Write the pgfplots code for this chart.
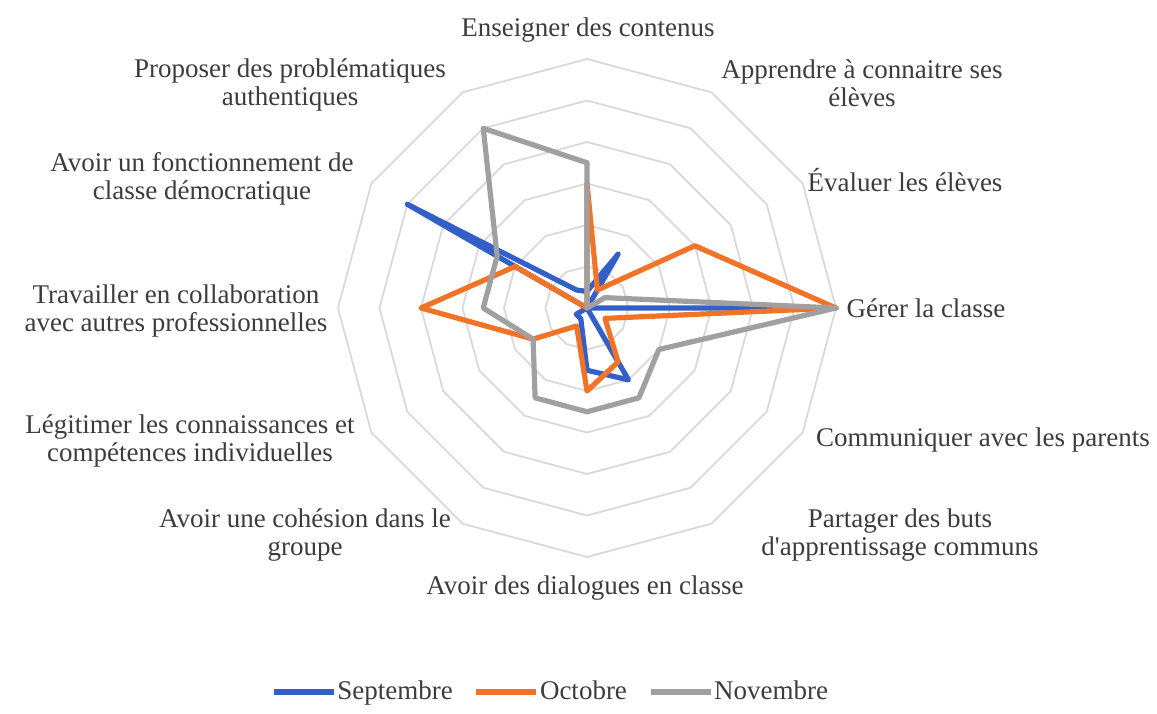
\documentclass[border=0pt]{standalone}
\usepackage{fontspec}
\setmainfont{Liberation Serif}
\usepackage{pgfplots}
\pgfplotsset{compat=1.18}
\definecolor{sepc}{RGB}{50,95,200}
\definecolor{octc}{RGB}{240,115,40}
\definecolor{novc}{RGB}{160,160,160}
\definecolor{ringc}{RGB}{217,217,217}
\definecolor{txtc}{RGB}{60,60,60}
\begin{document}
\begin{tikzpicture}
\useasboundingbox (0pt,0pt) rectangle (578.5pt,-356.5pt);
\begin{axis}[
  at={(293.5pt,-154pt)}, anchor=center,
  scale only axis, width=249pt, height=249pt,
  xmin=-6, xmax=6, ymin=-6, ymax=6,
  hide axis, clip=false,
  legend style={draw=none, fill=none, at={(0.426,-0.271)}, anchor=center,
    legend columns=3, font=\fontsize{13.5}{14}\selectfont, text=txtc,
    /tikz/every even column/.append style={column sep=10pt},
    nodes={inner sep=0.5pt}},
  legend image code/.code={\draw[#1,line cap=butt] (0pt,0pt) -- (30pt,0pt);},
]
\pgfplotsinvokeforeach{1,...,6}{
  \addplot[ringc, line width=0.9pt, data cs=polar, forget plot] coordinates
    {(90,#1)(60,#1)(30,#1)(0,#1)(-30,#1)(-60,#1)(-90,#1)(-120,#1)(-150,#1)(180,#1)(150,#1)(120,#1)(90,#1)};
}
\addplot[sepc, line width=2.6pt, line join=round, line cap=round, data cs=polar] coordinates
  {(90,0.4)(60,1.5)(30,0)(0,6)(-30,0)(-60,2)(-90,1.5)(-120,0.3)(-150,0.3)(180,0)(150,5)(120,0.5)(90,0.4)};
\addplot[octc, line width=2.6pt, line join=round, line cap=round, data cs=polar] coordinates
  {(90,3)(60,0.5)(30,3)(0,6)(-30,0.5)(-60,1.5)(-90,2)(-120,0.5)(-150,1.5)(180,4)(150,2)(120,0)(90,3)};
\addplot[novc, line width=2.6pt, line join=round, line cap=round, data cs=polar] coordinates
  {(90,3.5)(60,0)(30,0.5)(0,6)(-30,2)(-60,2.5)(-90,2.5)(-120,2.5)(-150,1.5)(180,2.5)(150,2.5)(120,5)(90,3.5)};
\legend{Septembre, Octobre, Novembre}
\end{axis}
\begin{scope}[every node/.style={align=center, text=txtc, inner sep=0pt, font=\fontsize{13.5}{14}\selectfont}]
\node at (294pt,-15pt) {Enseigner des contenus};
\node at (431pt,-41.5pt) {Apprendre à connaitre ses\\élèves};
\node at (452.5pt,-90pt) {Évaluer les élèves};
\node at (463pt,-154pt) {Gérer la classe};
\node at (491.5pt,-220pt) {Communiquer avec les parents};
\node at (450pt,-267.5pt) {Partager des buts\\d\textquotesingle apprentissage communs};
\node at (292.5pt,-294pt) {Avoir des dialogues en classe};
\node at (152.5pt,-267.5pt) {Avoir une cohésion dans le\\groupe};
\node at (95pt,-220.5pt) {Légitimer les connaissances et\\compétences individuelles};
\node at (88pt,-155.5pt) {Travailler en collaboration\\avec autres professionnelles};
\node at (101pt,-89.5pt) {Avoir un fonctionnement de\\classe démocratique};
\node at (145pt,-42.5pt) {Proposer des problématiques\\authentiques};
\end{scope}
\end{tikzpicture}
\end{document}
